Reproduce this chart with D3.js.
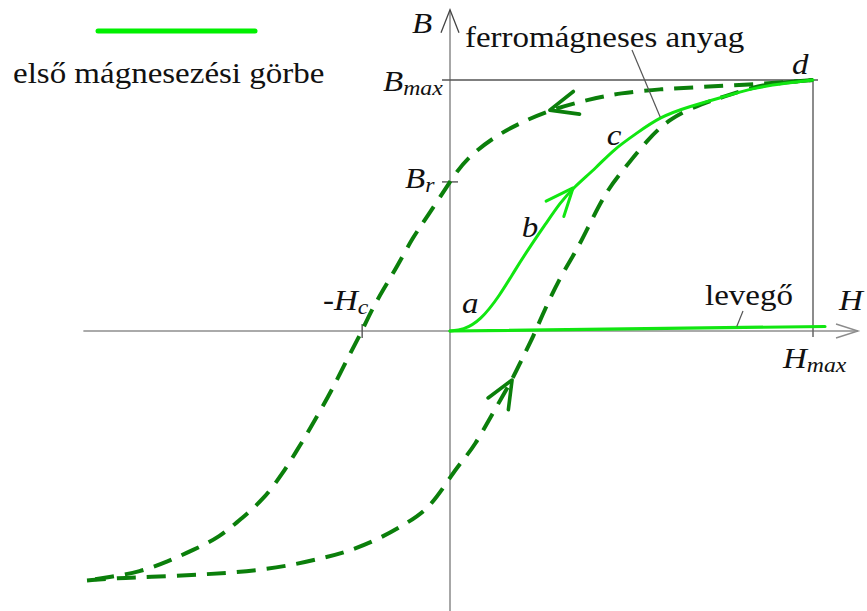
<!DOCTYPE html>
<html>
<head>
<meta charset="utf-8">
<script src="https://cdn.jsdelivr.net/npm/d3@7"></script>
<style>
  html, body { margin: 0; padding: 0; background: #fff; }
  svg { display: block; }
</style>
</head>
<body>
<svg id="chart" width="867" height="611"></svg>
<script>
// Hysteresis loop of a ferromagnetic material, in units of Hmax and Bmax.
const H_MAX = 1;
const B_MAX = 1;
const B_R = 0.594;   // remanence
const H_C = 0.242;   // coercive field

// Extent of the drawn axes
const hAxisExtent = [-1.01, 1.124];
const bAxisExtent = [-1.12, 1.28];

// First magnetisation curve (0 -> a -> b -> c -> d)
const firstMagH = [0, 0.036, 0.083, 0.138, 0.179, 0.220, 0.267, 0.303, 0.339, 0.405, 0.449, 0.515, 0.579, 0.653, 0.771, 0.835, 0.928, 1.0];
const firstMagB = [0, 0.004, 0.040, 0.143, 0.243, 0.335, 0.434, 0.510, 0.570, 0.653, 0.721, 0.789, 0.853, 0.892, 0.940, 0.968, 0.988, 1.0];

// Air: B = mu0 * H, nearly flat
const airH = [0, 1.033];
const airB = [0, 0.018];

// Descending branch of the loop (d -> Br -> -Hc -> -Bmax)
const descH = [1.0, 0.854, 0.689, 0.579, 0.468, 0.386, 0.275, 0.212, 0.138, 0.047, 0, -0.063, -0.102, -0.146, -0.185, -0.220, -0.242, -0.275, -0.311, -0.353, -0.399, -0.421, -0.460, -0.515, -0.573, -0.634, -0.708, -0.780, -0.854, -0.937, -1.0];
const descB = [1.0, 0.984, 0.972, 0.964, 0.948, 0.924, 0.880, 0.841, 0.789, 0.693, 0.596, 0.454, 0.375, 0.255, 0.163, 0.072, 0, -0.088, -0.195, -0.307, -0.422, -0.474, -0.566, -0.673, -0.745, -0.821, -0.873, -0.920, -0.960, -0.980, -0.994];

// Ascending branch of the loop (-Bmax -> Hc -> d)
const ascH = [-1.0, -0.917, -0.826, -0.708, -0.614, -0.523, -0.433, -0.350, -0.284, -0.201, -0.118, -0.055, 0.008, 0.036, 0.069, 0.110, 0.171, 0.193, 0.234, 0.248, 0.303, 0.350, 0.386, 0.433, 0.477, 0.543, 0.606, 0.697, 0.752, 0.835, 0.901, 1.0];
const ascB = [-0.994, -0.984, -0.980, -0.972, -0.964, -0.952, -0.932, -0.904, -0.880, -0.833, -0.765, -0.705, -0.566, -0.514, -0.454, -0.347, -0.195, -0.127, -0.008, 0.044, 0.215, 0.323, 0.430, 0.562, 0.641, 0.761, 0.849, 0.908, 0.932, 0.972, 0.988, 1.0];

// Direction arrows: index of the arrow tip in each curve
const firstMagArrowIdx = 8;
const descArrowIdx = 6;
const ascArrowIdx = 16;

const LIME = "#11e611";
const DARK = "#0b7f0b";
const SERIF = "'Liberation Serif', 'Times New Roman', serif";
const STRETCH = 1.1;
const FONT = 30;

const svg = d3.select("#chart");

const x = d3.scaleLinear().domain([-H_MAX, H_MAX]).range([87, 813]);
const y = d3.scaleLinear().domain([-B_MAX, B_MAX]).range([582, 80]);

const zip = (hs, bs) => hs.map((h, i) => [h, bs[i]]);
const line = d3.line().x(d => x(d[0])).y(d => y(d[1])).curve(d3.curveBasis);
const straight = d3.line().x(d => x(d[0])).y(d => y(d[1]));

// ---- axes ----
const axes = svg.append("g").attr("fill", "none");
axes.append("line")
  .attr("x1", x(hAxisExtent[0])).attr("x2", x(hAxisExtent[1]))
  .attr("y1", y(0)).attr("y2", y(0))
  .attr("stroke", "#aaaaaa").attr("stroke-width", 2);
axes.append("path")
  .attr("d", `M${x(hAxisExtent[1]) - 22},${y(0) - 7} L${x(hAxisExtent[1])},${y(0)} L${x(hAxisExtent[1]) - 22},${y(0) + 7}`)
  .attr("stroke", "#8c8c8c").attr("stroke-width", 1.4);
axes.append("line")
  .attr("x1", x(0)).attr("x2", x(0))
  .attr("y1", y(bAxisExtent[0])).attr("y2", y(bAxisExtent[1]))
  .attr("stroke", "#8a8a8a").attr("stroke-width", 1.5);
axes.append("path")
  .attr("d", `M${x(0) - 9},${y(bAxisExtent[1]) + 23} L${x(0)},${y(bAxisExtent[1])} L${x(0) + 9},${y(bAxisExtent[1]) + 23}`)
  .attr("stroke", "#444").attr("stroke-width", 1.3);

// Bmax reference line and Hmax drop line
axes.append("line")
  .attr("x1", x(0) - 8).attr("x2", x(H_MAX) + 5)
  .attr("y1", y(B_MAX)).attr("y2", y(B_MAX))
  .attr("stroke", "#555").attr("stroke-width", 1.5);
axes.append("line")
  .attr("x1", x(H_MAX)).attr("x2", x(H_MAX))
  .attr("y1", y(B_MAX)).attr("y2", y(0) + 6)
  .attr("stroke", "#666").attr("stroke-width", 1.5);
// Br tick and -Hc tick
axes.append("line")
  .attr("x1", x(0) - 8).attr("x2", x(0) + 8)
  .attr("y1", y(B_R)).attr("y2", y(B_R))
  .attr("stroke", "#555").attr("stroke-width", 1.4);
axes.append("line")
  .attr("x1", x(-H_C)).attr("x2", x(-H_C))
  .attr("y1", y(0) - 7).attr("y2", y(0) + 7)
  .attr("stroke", "#555").attr("stroke-width", 1.4);

// ---- curves ----
const curves = svg.append("g").attr("fill", "none").attr("stroke-linecap", "butt");

curves.append("path").datum(zip(descH, descB)).attr("d", line)
  .attr("stroke", DARK).attr("stroke-width", 4).attr("stroke-dasharray", "19,11");
curves.append("path").datum(zip(ascH, ascB)).attr("d", line)
  .attr("stroke", DARK).attr("stroke-width", 4).attr("stroke-dasharray", "19,11");

curves.append("path").datum(zip(airH, airB)).attr("d", straight)
  .attr("stroke", LIME).attr("stroke-width", 3.2).attr("stroke-linecap", "round");
curves.append("path").datum(zip(firstMagH, firstMagB)).attr("d", line)
  .attr("stroke", LIME).attr("stroke-width", 3).attr("stroke-linecap", "round");

// Open arrowhead at a curve sample, pointing along the curve
function arrowhead(hs, bs, idx, color, width) {
  const tx = x(hs[idx]), ty = y(bs[idx]);
  const px = x(hs[idx - 1]), py = y(bs[idx - 1]);
  const back = Math.atan2(py - ty, px - tx);
  const len = 30, spread = 23 * Math.PI / 180;
  const w1 = [tx + len * Math.cos(back - spread), ty + len * Math.sin(back - spread)];
  const w2 = [tx + len * Math.cos(back + spread), ty + len * Math.sin(back + spread)];
  curves.append("path")
    .attr("d", `M${w1[0]},${w1[1]} L${tx},${ty} L${w2[0]},${w2[1]}`)
    .attr("stroke", color).attr("stroke-width", width)
    .attr("stroke-linecap", "round").attr("stroke-linejoin", "round");
}
arrowhead(firstMagH, firstMagB, firstMagArrowIdx, LIME, 3);
arrowhead(descH, descB, descArrowIdx, DARK, 3.6);
arrowhead(ascH, ascB, ascArrowIdx, DARK, 3.6);

// ---- leader lines ----
const leaders = svg.append("g").attr("stroke", "#555").attr("stroke-width", 1.2);
leaders.append("line")
  .attr("x1", 632).attr("y1", 50)
  .attr("x2", x(firstMagH[12])).attr("y2", y(firstMagB[12]));
leaders.append("line")
  .attr("x1", 743).attr("y1", 311)
  .attr("x2", x(0.79)).attr("y2", y(0.79 * airB[1] / airH[1]) - 1);

// ---- legend ----
svg.append("line")
  .attr("x1", 98).attr("x2", 255).attr("y1", 31).attr("y2", 31)
  .attr("stroke", "#00f000").attr("stroke-width", 5).attr("stroke-linecap", "round");

// ---- text ----
// parts: [text, isSubscript]
function label(px, py, parts, italic, size) {
  const t = svg.append("text")
    .attr("transform", `translate(${px},${py}) scale(${STRETCH},1)`)
    .style("font-family", SERIF)
    .style("font-style", italic ? "italic" : "normal")
    .style("font-size", size + "px")
    .attr("fill", "#111");
  parts.forEach(([s, sub], i) => {
    const ts = t.append("tspan").text(s);
    if (sub) ts.style("font-size", (size * 0.72) + "px").attr("dy", 4);
    else if (i > 0 && parts[i - 1][1]) ts.attr("dy", -4);
  });
  return t;
}

label(13, 83, [["első mágnesezési görbe"]], false, FONT);
label(465, 47, [["ferromágneses anyag"]], false, FONT);
label(705, 305, [["levegő"]], false, FONT);

label(412, 33, [["B"]], true, FONT);
label(839, 310, [["H"]], true, FONT);
label(383, 91, [["B"], ["max", true]], true, FONT);
label(405, 188, [["B"], ["r", true]], true, FONT);
label(323, 310, [["-H"], ["c", true]], true, FONT);
label(783, 368, [["H"], ["max", true]], true, FONT);

label(x(0.033), y(0.072), [["a"]], true, FONT);
label(x(0.198), y(0.375), [["b"]], true, FONT);
label(x(0.432), y(0.741), [["c"]], true, FONT);
label(x(0.942), y(1.024), [["d"]], true, FONT);
</script>
</body>
</html>
